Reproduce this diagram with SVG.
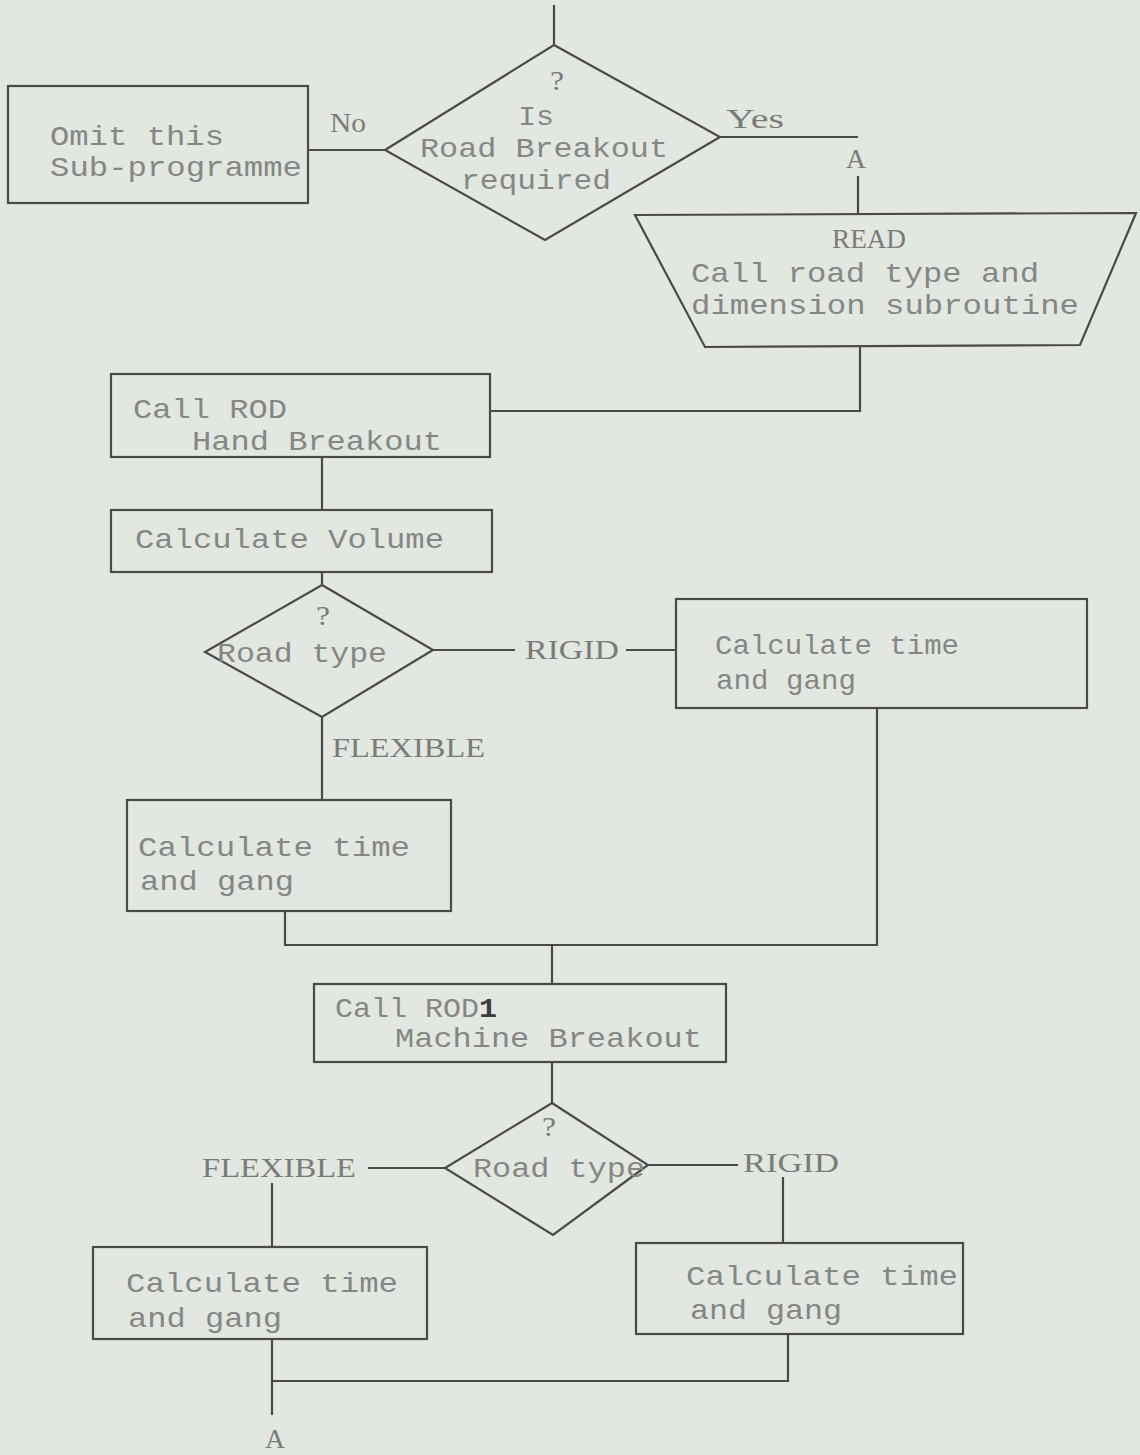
<svg xmlns="http://www.w3.org/2000/svg" width="1140" height="1455" viewBox="0 0 1140 1455">
  <style>
    .shape { fill: none; stroke: #4a4a48; stroke-width: 2.2; stroke-linejoin: miter; }
    .wire { fill: none; stroke: #4a4a48; stroke-width: 2.2; }
    .txt { font-family: "Liberation Mono", "DejaVu Sans Mono", monospace; font-size: 28px; fill: #858784; }
    .lbl { font-family: "Liberation Serif", "DejaVu Serif", serif; font-size: 27px; fill: #7a7c79; }
  </style>
  <rect x="0" y="0" width="1140" height="1455" fill="#e3e7e1"/>

  <!-- connectors -->
  <g id="connectors">
    <path class="wire" d="M554,5 V45"/>
    <path class="wire" d="M308,150 H385"/>
    <path class="wire" d="M720,137 H858"/>
    <path class="wire" d="M858,176 V214"/>
    <path class="wire" d="M860,347 V411 H490"/>
    <path class="wire" d="M322,457 V510"/>
    <path class="wire" d="M322,572 V585"/>
    <path class="wire" d="M433,650 H515"/>
    <path class="wire" d="M626,650 H676"/>
    <path class="wire" d="M322,717 V800"/>
    <path class="wire" d="M877,708 V945 H285 V911"/>
    <path class="wire" d="M552,945 V984"/>
    <path class="wire" d="M552,1062 V1103"/>
    <path class="wire" d="M445,1168 H368"/>
    <path class="wire" d="M648,1165 H738"/>
    <path class="wire" d="M272,1183 V1247"/>
    <path class="wire" d="M783,1177 V1243"/>
    <path class="wire" d="M272,1339 V1415"/>
    <path class="wire" d="M788,1334 V1381 H272"/>
  </g>

  <!-- connector labels -->
  <g id="labels">
    <text class="lbl" x="330" y="132" textLength="36" lengthAdjust="spacingAndGlyphs">No</text>
    <text class="lbl" x="726" y="128" textLength="58" lengthAdjust="spacingAndGlyphs">Yes</text>
    <text class="lbl" x="846" y="168" textLength="20" lengthAdjust="spacingAndGlyphs">A</text>
    <text class="lbl" x="525" y="659" textLength="94" lengthAdjust="spacingAndGlyphs">RIGID</text>
    <text class="lbl" x="332" y="757" textLength="153" lengthAdjust="spacingAndGlyphs">FLEXIBLE</text>
    <text class="lbl" x="202" y="1177" textLength="154" lengthAdjust="spacingAndGlyphs">FLEXIBLE</text>
    <text class="lbl" x="743" y="1172" textLength="96" lengthAdjust="spacingAndGlyphs">RIGID</text>
    <text class="lbl" x="265" y="1448" textLength="20" lengthAdjust="spacingAndGlyphs">A</text>
  </g>

  <!-- decision: is road breakout required -->
  <g id="decision-breakout">
    <polygon class="shape" points="554,45 720,137 545,240 385,150"/>
    <text class="lbl" x="550" y="90" textLength="14" lengthAdjust="spacingAndGlyphs">?</text>
    <text class="txt" x="518" y="125" textLength="36" lengthAdjust="spacingAndGlyphs">Is</text>
    <text class="txt" x="420" y="157" textLength="248" lengthAdjust="spacingAndGlyphs">Road Breakout</text>
    <text class="txt" x="461" y="189" textLength="150" lengthAdjust="spacingAndGlyphs">required</text>
  </g>

  <!-- omit -->
  <g id="omit">
    <rect class="shape" x="8" y="86" width="300" height="117"/>
    <text class="txt" x="50" y="145" textLength="174" lengthAdjust="spacingAndGlyphs">Omit this</text>
    <text class="txt" x="50" y="176" textLength="252" lengthAdjust="spacingAndGlyphs">Sub-programme</text>
  </g>

  <!-- read input -->
  <g id="read">
    <polygon class="shape" points="635,215 1136,213 1080,345 705,347"/>
    <text class="lbl" x="832" y="248" textLength="74" lengthAdjust="spacingAndGlyphs">READ</text>
    <text class="txt" x="691" y="282" textLength="348" lengthAdjust="spacingAndGlyphs">Call road type and</text>
    <text class="txt" x="691" y="314" textLength="388" lengthAdjust="spacingAndGlyphs">dimension subroutine</text>
  </g>

  <!-- hand breakout -->
  <g id="hand-breakout">
    <rect class="shape" x="111" y="374" width="379" height="83"/>
    <text class="txt" x="133" y="418" textLength="154" lengthAdjust="spacingAndGlyphs">Call ROD</text>
    <text class="txt" x="192" y="450" textLength="250" lengthAdjust="spacingAndGlyphs">Hand Breakout</text>
  </g>

  <!-- volume -->
  <g id="volume">
    <rect class="shape" x="111" y="510" width="381" height="62"/>
    <text class="txt" x="135" y="548" textLength="309" lengthAdjust="spacingAndGlyphs">Calculate Volume</text>
  </g>

  <!-- decision: road type (hand) -->
  <g id="decision-type-1">
    <polygon class="shape" points="322,585 433,650 322,717 205,652"/>
    <text class="lbl" x="316" y="625" textLength="14" lengthAdjust="spacingAndGlyphs">?</text>
    <text class="txt" x="217" y="662" textLength="170" lengthAdjust="spacingAndGlyphs">Road type</text>
  </g>

  <!-- rigid time, hand -->
  <g id="time-rigid-1">
    <rect class="shape" x="676" y="599" width="411" height="109"/>
    <text class="txt" x="715" y="654" textLength="244" lengthAdjust="spacingAndGlyphs">Calculate time</text>
    <text class="txt" x="716" y="689" textLength="140" lengthAdjust="spacingAndGlyphs">and gang</text>
  </g>

  <!-- flexible time, hand -->
  <g id="time-flexible-1">
    <rect class="shape" x="127" y="800" width="324" height="111"/>
    <text class="txt" x="138" y="856" textLength="272" lengthAdjust="spacingAndGlyphs">Calculate time</text>
    <text class="txt" x="140" y="890" textLength="154" lengthAdjust="spacingAndGlyphs">and gang</text>
  </g>

  <!-- machine breakout -->
  <g id="machine-breakout">
    <rect class="shape" x="314" y="984" width="412" height="78"/>
    <text class="txt" x="335" y="1017" textLength="162" lengthAdjust="spacingAndGlyphs">Call ROD<tspan fill="#3c3c3a" font-weight="bold">1</tspan></text>
    <text class="txt" x="395" y="1047" textLength="307" lengthAdjust="spacingAndGlyphs">Machine Breakout</text>
  </g>

  <!-- decision: road type (machine) -->
  <g id="decision-type-2">
    <polygon class="shape" points="552,1103 648,1165 553,1235 445,1168"/>
    <text class="lbl" x="542" y="1136" textLength="14" lengthAdjust="spacingAndGlyphs">?</text>
    <text class="txt" x="473" y="1177" textLength="172" lengthAdjust="spacingAndGlyphs">Road type</text>
  </g>

  <!-- flexible time, machine -->
  <g id="time-flexible-2">
    <rect class="shape" x="93" y="1247" width="334" height="92"/>
    <text class="txt" x="126" y="1292" textLength="272" lengthAdjust="spacingAndGlyphs">Calculate time</text>
    <text class="txt" x="128" y="1327" textLength="154" lengthAdjust="spacingAndGlyphs">and gang</text>
  </g>

  <!-- rigid time, machine -->
  <g id="time-rigid-2">
    <rect class="shape" x="636" y="1243" width="327" height="91"/>
    <text class="txt" x="686" y="1285" textLength="272" lengthAdjust="spacingAndGlyphs">Calculate time</text>
    <text class="txt" x="690" y="1319" textLength="152" lengthAdjust="spacingAndGlyphs">and gang</text>
  </g>
</svg>
